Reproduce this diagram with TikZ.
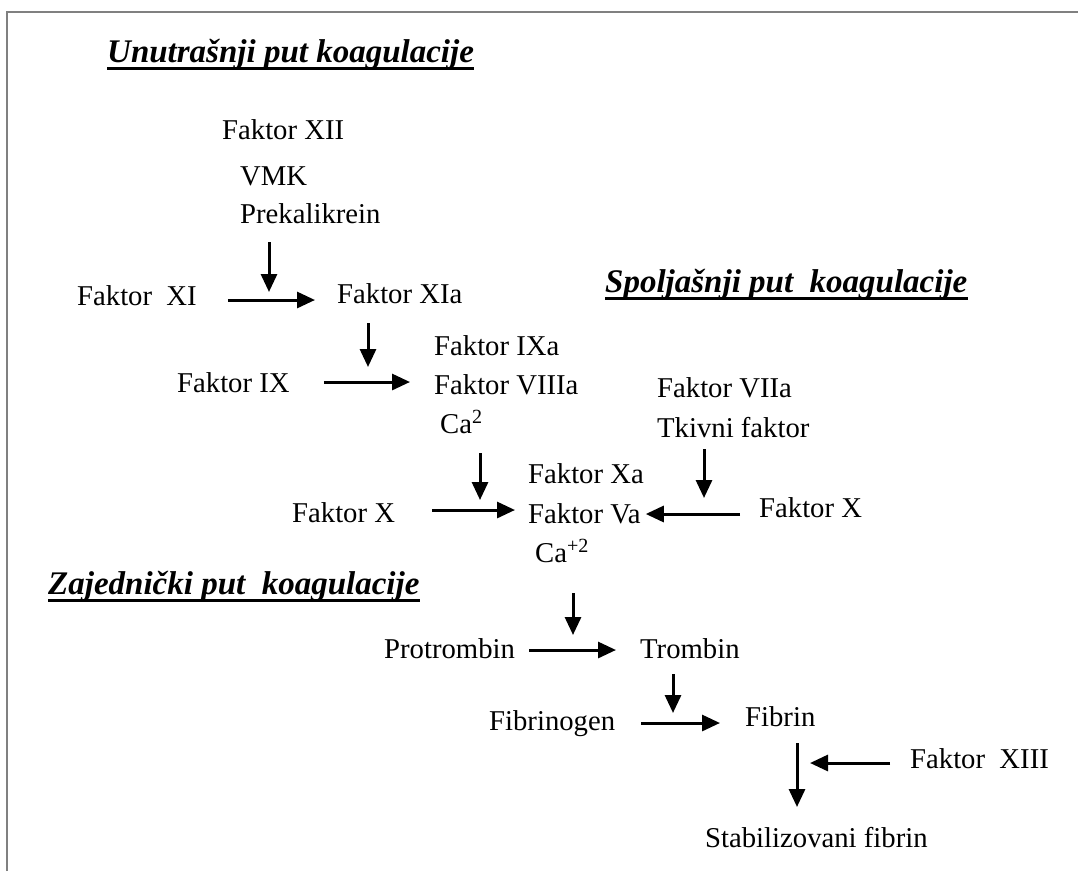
\documentclass[tikz,border=0pt]{standalone}
\usepackage{fontspec}
\setmainfont{Liberation Serif}
\usetikzlibrary{arrows.meta}
\begin{document}
\begin{tikzpicture}[x=1pt,y=1pt,
  lbl/.style={anchor=base west,inner sep=0pt,font=\fontsize{28.7}{34}\selectfont},
  ttl/.style={anchor=base west,inner sep=0pt,font=\fontsize{33}{39}\selectfont\bfseries\itshape},
  uline/.style={line width=3pt},
  arr/.style={line width=3pt,-{Triangle[length=18pt,width=16pt]}},
  frame/.style={draw=black!50,line width=2.2pt}]
\useasboundingbox (0,0) rectangle (1078,-871);
\draw[frame] (7,-871) -- (7,-12) -- (1078,-12);
% titles
\node[ttl] (t1) at (107,-62) {Unutrašnji put koagulacije};
\node[ttl] (t2) at (605,-292) {Spoljašnji put~~koagulacije};
\node[ttl] (t3) at (48,-594) {Zajednički put~~koagulacije};
\foreach \t in {t1,t2,t3}{\draw[uline] ([yshift=-6pt]\t.base west) -- ([yshift=-6pt]\t.base east);}
% intrinsic
\node[lbl] (xii) at (222,-139) {Faktor XII};
\node[lbl] (vmk) at (240,-185) {VMK};
\node[lbl] (prek) at (240,-223) {Prekalikrein};
\node[lbl] (fxi) at (77,-305) {Faktor~~XI};
\node[lbl] (fxia) at (337,-303) {Faktor XIa};
\node[lbl] (fix) at (177,-392) {Faktor IX};
\node[lbl] (ixa) at (434,-355) {Faktor IXa};
\node[lbl] (viiia) at (434,-394) {Faktor VIIIa};
\node[lbl] (caa) at (440,-433) {Ca\textsuperscript{2}};
\node[lbl] (fxl) at (292,-522) {Faktor X};
\node[lbl] (xa) at (528,-483) {Faktor Xa};
\node[lbl] (va) at (528,-523) {Faktor Va};
\node[lbl] (cab) at (535,-562) {Ca\textsuperscript{+2}};
% extrinsic
\node[lbl] (viia) at (657,-397) {Faktor VIIa};
\node[lbl] (tkiv) at (657,-437) {Tkivni faktor};
\node[lbl] (fxr) at (759,-517) {Faktor X};
% common
\node[lbl] (protr) at (384,-658) {Protrombin};
\node[lbl] (tromb) at (640,-658) {Trombin};
\node[lbl] (fibrg) at (489,-730) {Fibrinogen};
\node[lbl] (fibr) at (745,-726) {Fibrin};
\node[lbl] (xiii) at (910,-768) {Faktor~~XIII};
\node[lbl] (stab) at (705,-847) {Stabilizovani fibrin};
% arrows
\draw[arr] ([shift={(31pt,5pt)}]fxi.base east) coordinate (a1) -- ([shift={(-22pt,3pt)}]fxia.base west);
\draw[arr,shorten >=8pt] ([shift={(29pt,-19pt)}]prek.base west) coordinate (a2) -- (a2 |- a1);
\draw[arr] ([shift={(34pt,10pt)}]fix.base east) coordinate (a4) -- ([shift={(-24pt,12pt)}]viiia.base west);
\draw[arr,shorten >=15pt] ([shift={(31pt,-20pt)}]fxia.base west) coordinate (a3) -- (a3 |- a4);
\draw[arr] ([shift={(37pt,12pt)}]fxl.base east) coordinate (a6) -- ([shift={(-13pt,13pt)}]va.base west);
\draw[arr,shorten >=10pt] ([shift={(40pt,-20pt)}]caa.base west) coordinate (a5) -- (a5 |- a6);
\draw[arr] ([shift={(-19pt,3pt)}]fxr.base west) coordinate (a8) -- ([shift={(5pt,9pt)}]va.base east);
\draw[arr,shorten >=16pt] ([shift={(47pt,-12pt)}]tkiv.base west) coordinate (a7) -- (a7 |- a8);
\draw[arr] ([shift={(14pt,8pt)}]protr.base east) coordinate (a10) -- ([shift={(-24pt,8pt)}]tromb.base west);
\draw[arr,shorten >=15pt] ([shift={(38pt,-31pt)}]cab.base west) coordinate (a9) -- (a9 |- a10);
\draw[arr] ([shift={(26pt,7pt)}]fibrg.base east) coordinate (a12) -- ([shift={(-25pt,3pt)}]fibr.base west);
\draw[arr,shorten >=10pt] ([shift={(33pt,-16pt)}]tromb.base west) coordinate (a11) -- (a11 |- a12);
\draw[arr] ([shift={(52pt,-17pt)}]fibr.base west) coordinate (a13) -- ([shift={(92pt,40pt)}]stab.base west);
\draw[arr,shorten >=13pt] ([shift={(-20pt,5pt)}]xiii.base west) coordinate (a14) -- (a14 -| a13);
\end{tikzpicture}
\end{document}
